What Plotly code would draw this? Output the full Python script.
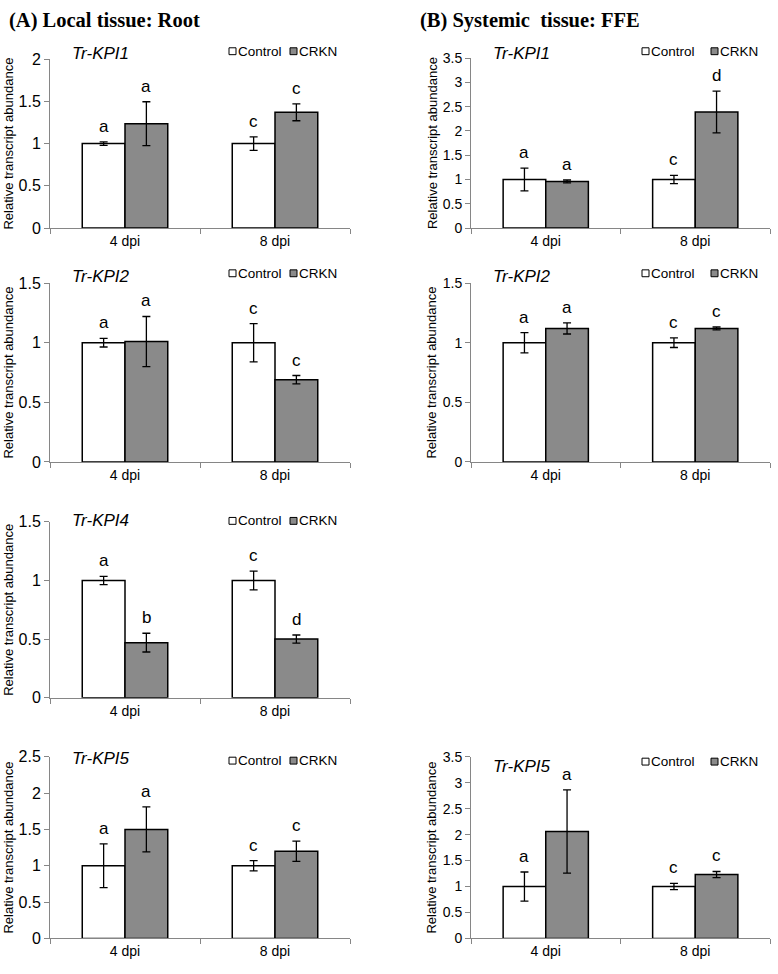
import plotly.graph_objects as go

W, H = 778, 974
categories = ['4 dpi', '8 dpi']

# ---- (A) Local tissue: Root ----
root_kpi1_control     = [1.00, 1.00]
root_kpi1_control_err = [0.02, 0.08]
root_kpi1_crkn        = [1.235, 1.37]
root_kpi1_crkn_err    = [0.26, 0.10]
root_kpi1_letters     = [['a', 'c'], ['a', 'c']]

root_kpi2_control     = [1.00, 1.00]
root_kpi2_control_err = [0.036, 0.16]
root_kpi2_crkn        = [1.01, 0.69]
root_kpi2_crkn_err    = [0.21, 0.035]
root_kpi2_letters     = [['a', 'c'], ['a', 'c']]

root_kpi4_control     = [1.00, 1.00]
root_kpi4_control_err = [0.035, 0.08]
root_kpi4_crkn        = [0.47, 0.50]
root_kpi4_crkn_err    = [0.08, 0.035]
root_kpi4_letters     = [['a', 'c'], ['b', 'd']]

root_kpi5_control     = [1.00, 1.00]
root_kpi5_control_err = [0.30, 0.07]
root_kpi5_crkn        = [1.50, 1.20]
root_kpi5_crkn_err    = [0.31, 0.14]
root_kpi5_letters     = [['a', 'c'], ['a', 'c']]

# ---- (B) Systemic tissue: FFE ----
ffe_kpi1_control     = [1.00, 1.00]
ffe_kpi1_control_err = [0.235, 0.085]
ffe_kpi1_crkn        = [0.96, 2.39]
ffe_kpi1_crkn_err    = [0.03, 0.43]
ffe_kpi1_letters     = [['a', 'c'], ['a', 'd']]

ffe_kpi2_control     = [1.00, 1.00]
ffe_kpi2_control_err = [0.085, 0.04]
ffe_kpi2_crkn        = [1.12, 1.12]
ffe_kpi2_crkn_err    = [0.047, 0.012]
ffe_kpi2_letters     = [['a', 'c'], ['a', 'c']]

ffe_kpi5_control     = [1.00, 1.00]
ffe_kpi5_control_err = [0.28, 0.06]
ffe_kpi5_crkn        = [2.06, 1.23]
ffe_kpi5_crkn_err    = [0.80, 0.06]
ffe_kpi5_letters     = [['a', 'c'], ['a', 'c']]

# panel: gene, data..., y max, pixel box (l, t, r, b), gene label y, legend y
panels = [
	('Tr-KPI1', root_kpi1_control, root_kpi1_control_err, root_kpi1_crkn, root_kpi1_crkn_err, root_kpi1_letters, 2.0, (50, 52, 350, 224), 46, 44),
	('Tr-KPI2', root_kpi2_control, root_kpi2_control_err, root_kpi2_crkn, root_kpi2_crkn_err, root_kpi2_letters, 1.5, (50, 280, 350, 462), 273, 270),
	('Tr-KPI4', root_kpi4_control, root_kpi4_control_err, root_kpi4_crkn, root_kpi4_crkn_err, root_kpi4_letters, 1.5, (50, 523, 350, 702), 522, 522),
	('Tr-KPI5', root_kpi5_control, root_kpi5_control_err, root_kpi5_crkn, root_kpi5_crkn_err, root_kpi5_letters, 2.5, (50, 762, 350, 947), 764, 766),
	('Tr-KPI1', ffe_kpi1_control, ffe_kpi1_control_err, ffe_kpi1_crkn, ffe_kpi1_crkn_err, ffe_kpi1_letters, 3.5, (471, 51, 770, 224), 46, 44),
	('Tr-KPI2', ffe_kpi2_control, ffe_kpi2_control_err, ffe_kpi2_crkn, ffe_kpi2_crkn_err, ffe_kpi2_letters, 1.5, (471, 280, 770, 462), 273, 270),
	('Tr-KPI5', ffe_kpi5_control, ffe_kpi5_control_err, ffe_kpi5_crkn, ffe_kpi5_crkn_err, ffe_kpi5_letters, 3.5, (471, 762, 770, 947), 772, 767),
]

SANS = 'Liberation Sans, Arial, sans-serif'
AXIS_GRAY = '#868686'
CRKN_GRAY = '#8a8a8a'
BARGAP = 0.43

px = lambda x: x / W
py = lambda y: 1 - y / H

fig = go.Figure()
annotations = []
shapes = []

for i, (gene, ctrl, ctrl_err, crkn, crkn_err, letters, ymax, box, gene_y, leg_y) in enumerate(panels, start=1):
	xa, ya = ('x', 'y') if i == 1 else (f'x{i}', f'y{i}')
	l, t, r, b = box
	right_col = l > 400

	for vals, errs, fill in ((ctrl, ctrl_err, 'white'), (crkn, crkn_err, CRKN_GRAY)):
		fig.add_trace(go.Bar(
			x=categories, y=vals, xaxis=xa, yaxis=ya, showlegend=False,
			marker=dict(color=fill, line=dict(color='black', width=1.5)),
			error_y=dict(type='data', array=errs, color='black', thickness=1.3, width=4),
		))

	fig.layout[xa.replace('x', 'xaxis')] = dict(
		domain=[px(l), px(r)], anchor=ya, type='category', tickson='boundaries',
		showline=True, linecolor=AXIS_GRAY, linewidth=1, ticks='outside', ticklen=5,
		tickcolor=AXIS_GRAY, showgrid=False, tickfont=dict(family=SANS, size=14, color='black'),
		fixedrange=True)
	fig.layout[ya.replace('y', 'yaxis')] = dict(
		domain=[py(b), py(t)], anchor=xa, range=[0, ymax], dtick=0.5,
		showline=True, linecolor=AXIS_GRAY, linewidth=1, ticks='outside', ticklen=5,
		tickcolor=AXIS_GRAY, showgrid=False, zeroline=False,
		tickfont=dict(family=SANS, size=14 if right_col else 16, color='black'), fixedrange=True)

	# significance letters above error bars
	off = (1 - BARGAP) / 4
	for s, (vals, errs) in enumerate(((ctrl, ctrl_err), (crkn, crkn_err))):
		for c in range(len(categories)):
			annotations.append(dict(
				x=c + (-off if s == 0 else off), y=vals[c] + errs[c], xref=xa, yref=ya,
				text=letters[s][c], showarrow=False, yanchor='bottom', yshift=4,
				font=dict(family=SANS, size=17, color='black')))

	# y-axis title
	annotations.append(dict(
		x=px(l - (39 if right_col else 41)), y=py((t + b) / 2), xref='paper', yref='paper',
		text='Relative transcript abundance', textangle=-90, showarrow=False,
		xanchor='center', yanchor='middle',
		font=dict(family=SANS, size=13, color='black')))

	# gene name
	annotations.append(dict(
		x=px(l + (20 if right_col else 20)), y=py(gene_y), xref='paper', yref='paper',
		text=f'<i>{gene}</i>', showarrow=False, xanchor='left', yanchor='middle',
		font=dict(family=SANS, size=17, color='black')))

	# legend boxes
	sq1 = l + (171 if right_col else 179)
	sq2 = sq1 + (69 if right_col else 61)
	for sx, fill, label in ((sq1, 'white', 'Control'), (sq2, CRKN_GRAY, 'CRKN')):
		shapes.append(dict(type='rect', xref='paper', yref='paper',
			x0=px(sx), x1=px(sx + 7), y0=py(leg_y + 3.5), y1=py(leg_y - 3.5),
			fillcolor=fill, line=dict(color='black', width=1)))
		annotations.append(dict(
			x=px(sx + 7), y=py(leg_y), xref='paper', yref='paper', text=label,
			showarrow=False, xanchor='left', yanchor='middle',
			font=dict(family=SANS, size=13.5, color='black')))

# panel headings
for x0, txt in ((7, '(A) Local tissue: Root'), (418, '(B) Systemic\u00a0 tissue: FFE')):
	annotations.append(dict(
		x=px(x0), y=py(13), xref='paper', yref='paper', text=f'<b>{txt}</b>',
		showarrow=False, xanchor='left', yanchor='middle',
		font=dict(family='Liberation Serif, Times New Roman, serif', size=20.5, color='black')))

fig.update_layout(
	width=W, height=H, margin=dict(l=0, r=0, t=0, b=0, pad=0),
	paper_bgcolor='white', plot_bgcolor='white',
	barmode='group', bargap=BARGAP, bargroupgap=0,
	annotations=annotations, shapes=shapes, showlegend=False,
)

# page body margin would shift the figure by 8px
fig.write_html('out.html', config={'displayModeBar': False},
	post_script="document.body.style.margin='0';")
